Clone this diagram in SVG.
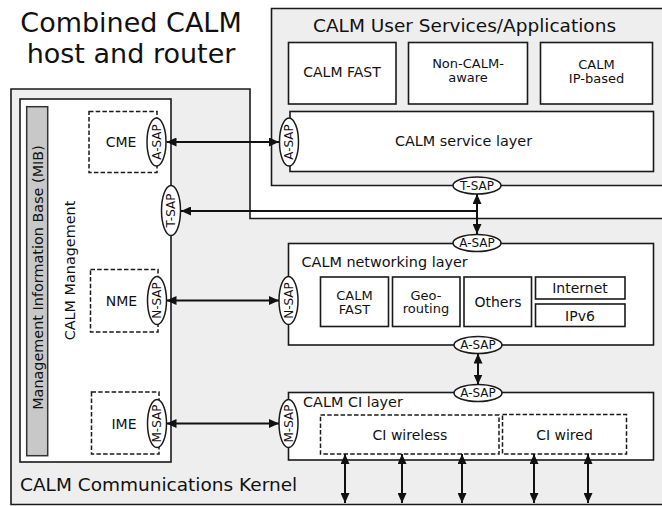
<svg xmlns="http://www.w3.org/2000/svg" width="662" height="506" viewBox="0 0 662 506">
  <style>
    text { font-family: "DejaVu Sans", "Liberation Sans", sans-serif; fill: #111; }
    .frame { fill: #eeeeee; stroke: #1a1a1a; stroke-width: 1.6; }
    .box { fill: #ffffff; stroke: #1a1a1a; stroke-width: 1.6; }
    .dash { fill: #ffffff; stroke: #1a1a1a; stroke-width: 1.5; stroke-dasharray: 4.5 2.2; }
    .mib { fill: #c8c8c8; stroke: #333; stroke-width: 1.5; }
    .sap { fill: #ffffff; stroke: #1a1a1a; stroke-width: 1.5; }
    .sapt { font-size: 12px; text-anchor: middle; }
    .lbl { font-size: 14px; text-anchor: middle; }
    .lbl2 { font-size: 13px; text-anchor: middle; }
    .layer { font-size: 14.4px; }
    .big { font-size: 18.5px; }
    .title { font-size: 27px; text-anchor: middle; }
    .conn { fill: none; stroke: #111; stroke-width: 2; }
  </style>
  <defs>
    <marker id="ah" viewBox="0 0 10 9" refX="10" refY="4.5" markerWidth="10" markerHeight="9" markerUnits="userSpaceOnUse" orient="auto-start-reverse">
      <path d="M0,0 L10,4.5 L0,9 Z" fill="#111"/>
    </marker>
  </defs>

  <rect width="662" height="506" fill="#ffffff"/>

  <!-- title -->
  <g id="title">
    <text class="title" x="131" y="31.5">Combined CALM</text>
    <text class="title" x="131" y="63">host and router</text>
  </g>

  <!-- communications kernel frame -->
  <g id="kernel">
    <path class="frame" d="M11,504.5 V89 H250 V218.5 H664 V504.5 Z"/>
    <text class="big" x="20" y="491">CALM Communications Kernel</text>
  </g>

  <!-- user services / applications frame -->
  <g id="user-services">
    <path class="frame" d="M664,8.5 H271.5 V185.5 H664"/>
    <text class="big" x="313" y="32">CALM User Services/Applications</text>
  </g>

  <g id="app-fast">
    <rect class="box" x="288.5" y="42.5" width="107.5" height="61.5"/>
    <text class="lbl" x="342" y="77">CALM FAST</text>
  </g>
  <g id="app-noncalm">
    <rect class="box" x="408.5" y="42.5" width="119" height="61.5"/>
    <text class="lbl2" x="468" y="68">Non-CALM-</text>
    <text class="lbl2" x="468" y="81.5">aware</text>
  </g>
  <g id="app-ip">
    <rect class="box" x="540.5" y="42.5" width="112" height="61.5"/>
    <text class="lbl2" x="596.5" y="69">CALM</text>
    <text class="lbl2" x="596.5" y="82.5">IP-based</text>
  </g>

  <g id="service-layer">
    <rect class="box" x="290" y="111.5" width="363.5" height="60"/>
    <text class="layer" x="463.5" y="146" text-anchor="middle">CALM service layer</text>
    <ellipse class="sap" cx="289" cy="142" rx="9.5" ry="24"/>
    <text class="sapt" transform="translate(293.3,142) rotate(-90)">A-SAP</text>
    <ellipse class="sap" cx="477" cy="185.5" rx="24" ry="8.5"/>
    <text class="sapt" x="477" y="189.8">T-SAP</text>
  </g>

  <!-- management entity -->
  <g id="management">
    <rect class="box" x="20" y="99" width="151" height="363"/>
    <rect class="mib" x="26.7" y="106.7" width="21" height="349"/>
    <text class="layer" text-anchor="middle" transform="translate(42.5,277.5) rotate(-90)">Management Information Base (MIB)</text>
    <text class="layer" text-anchor="middle" transform="translate(75,270.5) rotate(-90)">CALM Management</text>
    <ellipse class="sap" cx="171" cy="210.5" rx="9.5" ry="25"/>
    <text class="sapt" transform="translate(175.3,210.5) rotate(-90)">T-SAP</text>
  </g>

  <g id="cme">
    <rect class="dash" x="89" y="111.5" width="68" height="61"/>
    <text class="lbl" x="121" y="147">CME</text>
    <ellipse class="sap" cx="156.5" cy="142" rx="9.5" ry="24"/>
    <text class="sapt" transform="translate(160.8,142) rotate(-90)">A-SAP</text>
  </g>
  <g id="nme">
    <rect class="dash" x="90.5" y="269.5" width="67.5" height="62.5"/>
    <text class="lbl" x="121.5" y="306">NME</text>
    <ellipse class="sap" cx="157" cy="300.5" rx="9.5" ry="24"/>
    <text class="sapt" transform="translate(161.3,300.5) rotate(-90)">N-SAP</text>
  </g>
  <g id="ime">
    <rect class="dash" x="91.5" y="392" width="67.5" height="62"/>
    <text class="lbl" x="124" y="428.5">IME</text>
    <ellipse class="sap" cx="157" cy="423.5" rx="9.5" ry="24"/>
    <text class="sapt" transform="translate(161.3,423.5) rotate(-90)">M-SAP</text>
  </g>

  <!-- networking layer -->
  <g id="networking-layer">
    <rect class="box" x="288.5" y="243.5" width="365" height="101.5"/>
    <text class="layer" x="301.5" y="266.5">CALM networking layer</text>
    <ellipse class="sap" cx="477" cy="243" rx="24" ry="8.5"/>
    <text class="sapt" x="477" y="247.3">A-SAP</text>
    <ellipse class="sap" cx="478" cy="345" rx="24" ry="8.5"/>
    <text class="sapt" x="478" y="349.3">A-SAP</text>
    <ellipse class="sap" cx="288.5" cy="300.5" rx="9.5" ry="24"/>
    <text class="sapt" transform="translate(292.8,300.5) rotate(-90)">N-SAP</text>
  </g>
  <g id="net-fast">
    <rect class="box" x="320.5" y="277" width="68" height="49.5"/>
    <text class="lbl2" x="354.5" y="300">CALM</text>
    <text class="lbl2" x="354.5" y="313.5">FAST</text>
  </g>
  <g id="net-geo">
    <rect class="box" x="392.5" y="277" width="67.5" height="49.5"/>
    <text class="lbl2" x="426" y="299.5">Geo-</text>
    <text class="lbl2" x="426" y="313">routing</text>
  </g>
  <g id="net-others">
    <rect class="box" x="464" y="277" width="67.5" height="49.5"/>
    <text class="lbl" x="498" y="307">Others</text>
  </g>
  <g id="net-internet">
    <rect class="box" x="535.5" y="277" width="89.5" height="22"/>
    <text class="lbl" x="580" y="293">Internet</text>
  </g>
  <g id="net-ipv6">
    <rect class="box" x="535.5" y="304" width="89.5" height="22.5"/>
    <text class="lbl" x="580" y="320.5">IPv6</text>
  </g>

  <!-- CI layer -->
  <g id="ci-layer">
    <rect class="box" x="288.5" y="392.5" width="365" height="67.5"/>
    <text class="layer" x="303" y="407">CALM CI layer</text>
    <ellipse class="sap" cx="478" cy="393" rx="24" ry="8.5"/>
    <text class="sapt" x="478" y="397.3">A-SAP</text>
    <ellipse class="sap" cx="288.5" cy="423.5" rx="9.5" ry="24"/>
    <text class="sapt" transform="translate(292.8,423.5) rotate(-90)">M-SAP</text>
  </g>
  <g id="ci-wireless">
    <rect class="dash" x="320.5" y="415" width="178.5" height="39"/>
    <text class="lbl" x="410" y="440">CI wireless</text>
  </g>
  <g id="ci-wired">
    <rect class="dash" x="502.5" y="414.5" width="124" height="39.5"/>
    <text class="lbl" x="564.5" y="439.5">CI wired</text>
  </g>

  <!-- connectors -->
  <g id="connectors">
    <path class="conn" d="M166.5,142 H279" marker-start="url(#ah)" marker-end="url(#ah)"/>
    <path class="conn" d="M477,211 H181" marker-end="url(#ah)"/>
    <path class="conn" d="M477,194 V234" marker-start="url(#ah)" marker-end="url(#ah)"/>
    <path class="conn" d="M166.5,300.5 H279" marker-start="url(#ah)" marker-end="url(#ah)"/>
    <path class="conn" d="M166.5,423.5 H279" marker-start="url(#ah)" marker-end="url(#ah)"/>
    <path class="conn" d="M478,353.5 V384.5" marker-start="url(#ah)" marker-end="url(#ah)"/>
    <path class="conn" d="M345,454 V503" marker-start="url(#ah)" marker-end="url(#ah)"/>
    <path class="conn" d="M402,454 V503" marker-start="url(#ah)" marker-end="url(#ah)"/>
    <path class="conn" d="M462,454 V503" marker-start="url(#ah)" marker-end="url(#ah)"/>
    <path class="conn" d="M534,454 V503" marker-start="url(#ah)" marker-end="url(#ah)"/>
    <path class="conn" d="M588,454 V503" marker-start="url(#ah)" marker-end="url(#ah)"/>
  </g>
</svg>
